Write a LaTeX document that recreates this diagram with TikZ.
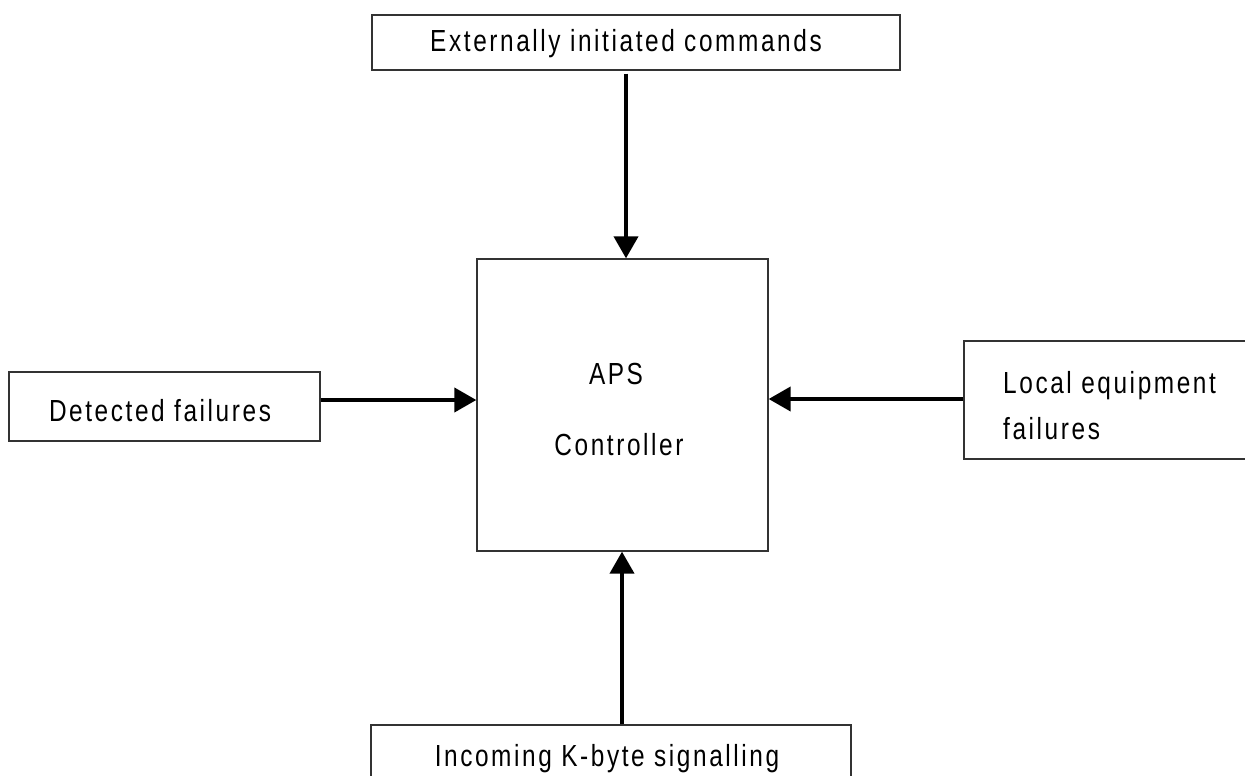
\documentclass[tikz,border=0pt]{standalone}
\usepackage{fontspec}
\setmainfont{Liberation Sans}[FakeStretch=0.8,LetterSpace=8.5]
\usetikzlibrary{arrows.meta}
\begin{document}
\begin{tikzpicture}[x=1pt,y=-1pt,
  box/.style={draw=black!80,line width=1.3pt,fill=white,inner sep=0pt},
  lbl/.style={anchor=base,inner sep=0pt,font=\fontsize{30.5}{36}\selectfont},
  flow/.style={line width=4pt,-{Triangle[length=22pt,width=24pt]}}]
\useasboundingbox (0,0) rectangle (1245,776);
\clip (0,0) rectangle (1245,776);

% boxes
\node[box,minimum width=528pt,minimum height=55pt]  (cmd) at (636,42.5) {};
\node[box,minimum width=291pt,minimum height=292pt] (aps) at (622.5,405) {};
\node[box,minimum width=311pt,minimum height=69pt]  (det) at (164.5,406.5) {};
\node[box,minimum width=330pt,minimum height=118pt] (loc) at (1129,400) {};
\node[box,minimum width=480pt,minimum height=105pt] (kb)  at (611,777.5) {};

% texts
\node[lbl] (tcmd) at (626,52) {Externally initiated commands};
\node[lbl] (taps1) at (616,384) {APS};
\node[lbl] (taps2) at (619,455) {Controller};
\node[lbl] (tdet) at (160,421) {Detected failures};
\node[lbl,anchor=base west] (tloc1) at (1003,393) {Local equipment};
\node[lbl,anchor=base west] (tloc2) at (1003,439) {failures};
\node[lbl] (tkb) at (607,766) {Incoming K-byte signalling};

% connector lines
\coordinate (xa) at (626,0);
\coordinate (xb) at (622,0);
\coordinate (yl) at (0,400);
\coordinate (yr) at (0,399);
\draw[flow,shorten <=3pt] (cmd.south -| xa) -- (aps.north -| xa);
\draw[flow] (det.east |- yl) -- (aps.west |- yl);
\draw[flow] (loc.west |- yr) -- (aps.east |- yr);
\draw[flow] (kb.north -| xb) -- (aps.south -| xb);
\end{tikzpicture}
\end{document}
